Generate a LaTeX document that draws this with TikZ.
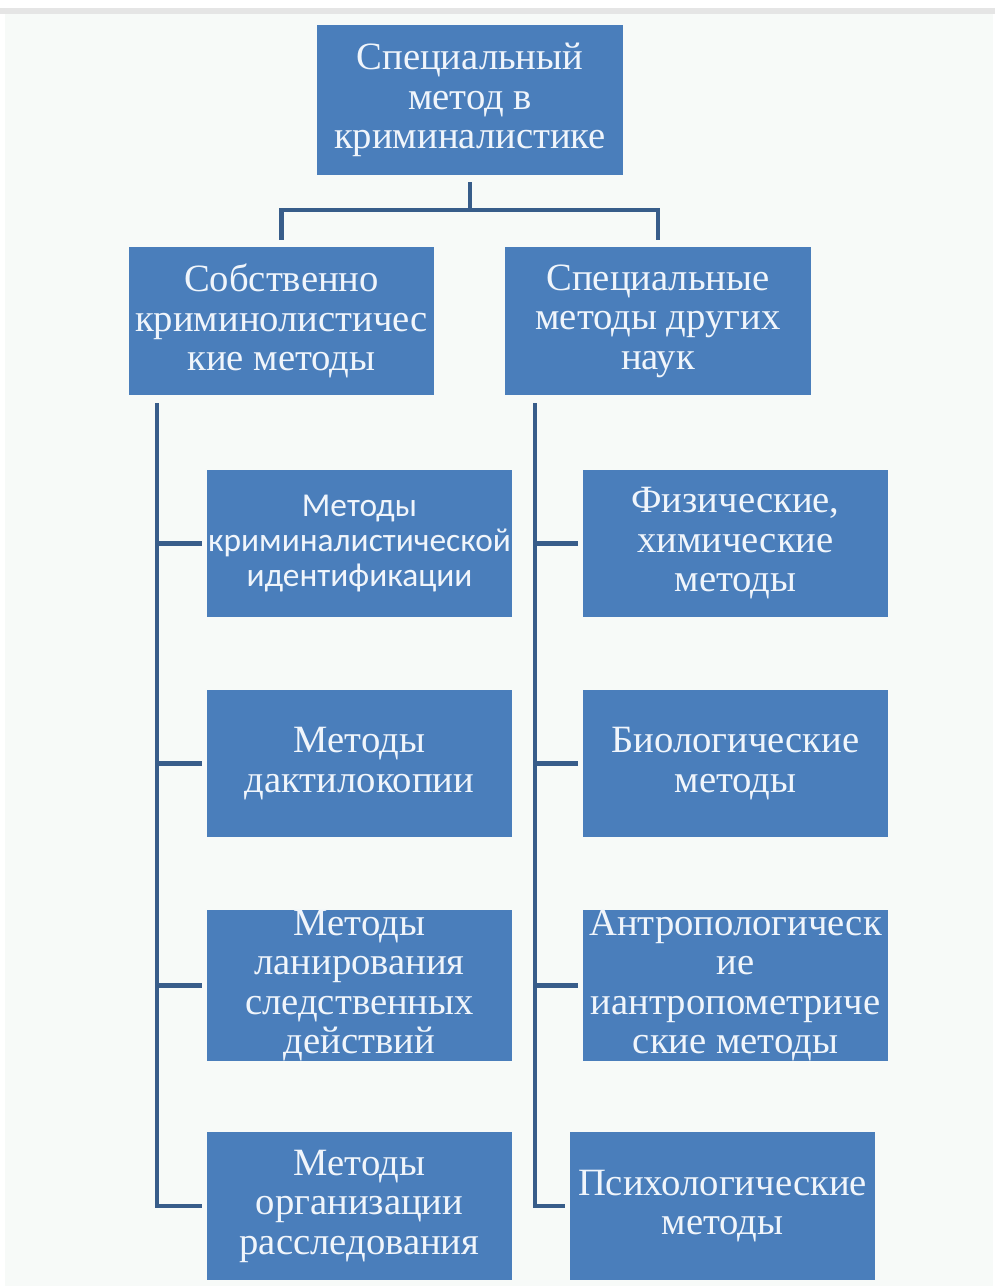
\documentclass[tikz,border=0pt]{standalone}
\usepackage{fontspec}
\setmainfont{Liberation Serif}
\newfontfamily\calibrifont{Carlito}
\usetikzlibrary{positioning}
\definecolor{boxblue}{HTML}{4A7EBB}
\definecolor{lineblue}{HTML}{385D8A}
\definecolor{paper}{HTML}{F7FAF8}
\definecolor{boxtext}{HTML}{F0F5FB}

\begin{document}
\begin{tikzpicture}[
    x=0.02cm, y=-0.02cm,
    blok/.style={rectangle, fill=boxblue, text=boxtext, inner sep=0pt,
      minimum width=6.12cm, minimum height=2.96cm, align=center,
      font=\fontsize{22pt}{22.5pt}\selectfont},
    vetka/.style={draw=lineblue, line width=2.3pt}
  ]

    % --- FONDO ---
    \useasboundingbox (0,0) rectangle (995,1286);
    \fill[paper] (5,14) rectangle (993,1286);
    \fill[gray!20] (0,8) rectangle (995,14);

    % --- NIVEL SUPERIOR ---
    \node[blok, minimum height=3cm] (verh) at (470,100) {Специальный\\метод в\\криминалистике};
    \node[blok] (sobstv) at (281.5,321) {Собственно\\криминолистичес\\кие методы};
    \node[blok] (drugie) at (658,321) {Специальные\\методы других\\наук};

    % ramificacion
    \draw[vetka, shorten <=0.14cm] (verh.south) -- ++(0,35) coordinate (razv);
    \draw[vetka, shorten >=0.14cm] (razv) -| (sobstv.north);
    \draw[vetka, shorten >=0.14cm] (razv) -| (drugie.north);

    % --- RAMA IZQUIERDA ---
    \node[blok, font=\calibrifont\fontsize{19pt}{20pt}\selectfont] (l1) at (359.5,543.5)
        {Методы\\криминалистической\\идентификации};
    \node[blok] (l2) at (359.5,763.5) {Методы\\дактилокопии};
    \node[blok] (l3) at (359.5,985.5) {Методы\\ланирования\\следственных\\действий};
    \node[blok] (l4) at (359.5,1206) {Методы\\организации\\расследования};

    \coordinate (lstvol) at (157,403);
    \draw[vetka, shorten >=0.08cm] (lstvol) |- (l4.west);
    \foreach \k in {l1,l2,l3}
        \draw[vetka, shorten >=0.08cm] (lstvol |- \k.west) -- (\k.west);

    % --- RAMA DERECHA ---
    \node[blok] (r1) at (735.5,543.5) {Физические,\\химические\\методы};
    \node[blok] (r2) at (735.5,763.5) {Биологические\\методы};
    \node[blok] (r3) at (735.5,985.5) {Антропологическ\\ие\\иантропометриче\\ские методы};
    \node[blok] (r4) at (722.5,1206) {Психологические\\методы};

    \coordinate (rstvol) at (535,403);
    \draw[vetka, shorten >=0.08cm] (rstvol) |- (r4.west);
    \foreach \k in {r1,r2,r3}
        \draw[vetka, shorten >=0.08cm] (rstvol |- \k.west) -- (\k.west);

  \end{tikzpicture}
\end{document}
